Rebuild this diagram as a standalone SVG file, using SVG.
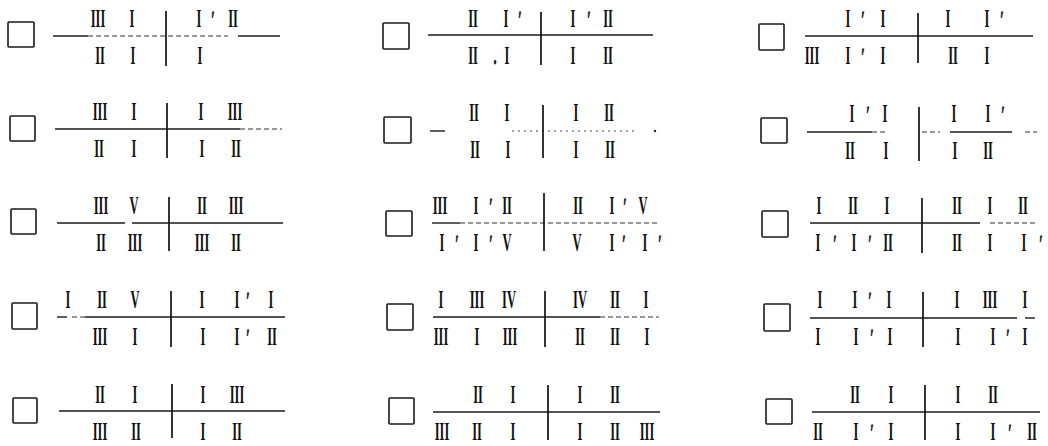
<svg xmlns="http://www.w3.org/2000/svg" width="1048" height="446" viewBox="0 0 1048 446">
<style>
.box{fill:none;stroke:#1a1a1a;stroke-width:1.6}
.h{stroke:#1a1a1a;stroke-width:1.4;fill:none}
.hd{stroke:#333;stroke-width:1.2;fill:none;stroke-dasharray:5 3}
.v{stroke:#111;stroke-width:1.7}
.t{font-family:"Liberation Serif",serif;font-size:25px;font-weight:bold;fill:#111;text-anchor:middle}
.p{font-family:"Liberation Serif",serif;font-size:24px;font-weight:bold;fill:#111;stroke:#111;stroke-width:0.8;text-anchor:middle}
</style>
<rect width="1048" height="446" fill="#fff"/>

<g id="item-r1c1">
<rect class="box" x="8" y="22" width="26" height="25" rx="1"/>
<line class="h" x1="53" y1="36" x2="88" y2="36"/><line class="hd" x1="88" y1="36" x2="228" y2="36"/><line class="h" x1="238" y1="36" x2="280" y2="36"/>
<line class="v" x1="166" y1="11" x2="166" y2="66"/>
<g transform="scale(0.5 1)">
<text class="t" x="196" y="27">III</text><text class="t" x="264" y="27">I</text><text class="t" x="398" y="27">I</text><text class="p" x="426" y="27">′</text><text class="t" x="466" y="27">II</text>
<text class="t" x="200" y="64">II</text><text class="t" x="266" y="64">I</text><text class="t" x="400" y="64">I</text>
</g>
</g>

<g id="item-r2c1">
<rect class="box" x="10" y="116" width="25" height="25" rx="1"/>
<line class="h" x1="55" y1="129" x2="240" y2="129"/><line class="hd" x1="240" y1="129" x2="282" y2="129"/>
<line class="v" x1="167" y1="103" x2="167" y2="158"/>
<g transform="scale(0.5 1)">
<text class="t" x="200" y="120">III</text><text class="t" x="268" y="120">I</text><text class="t" x="402" y="120">I</text><text class="t" x="470" y="120">III</text>
<text class="t" x="198" y="157">II</text><text class="t" x="268" y="157">I</text><text class="t" x="404" y="157">I</text><text class="t" x="472" y="157">II</text>
</g>
</g>

<g id="item-r3c1">
<rect class="box" x="11" y="209" width="25" height="25" rx="1"/>
<line class="h" x1="57" y1="223" x2="125" y2="223"/><line class="h" x1="132" y1="223" x2="283" y2="223"/>
<line class="v" x1="169" y1="197" x2="169" y2="251"/>
<g transform="scale(0.5 1)">
<text class="t" x="202" y="214">III</text><text class="t" x="268" y="214">V</text><text class="t" x="404" y="214">II</text><text class="t" x="472" y="214">III</text>
<text class="t" x="202" y="251">II</text><text class="t" x="270" y="251">III</text><text class="t" x="404" y="251">III</text><text class="t" x="472" y="251">II</text>
</g>
</g>

<g id="item-r4c1">
<rect class="box" x="12" y="303" width="25" height="26" rx="1"/>
<line class="h" x1="57" y1="317" x2="67" y2="317"/><line class="hd" x1="72" y1="317" x2="85" y2="317"/><line class="h" x1="85" y1="317" x2="285" y2="317"/>
<line class="v" x1="171" y1="291" x2="171" y2="347"/>
<g transform="scale(0.5 1)">
<text class="t" x="136" y="308">I</text><text class="t" x="204" y="308">II</text><text class="t" x="270" y="308">V</text><text class="t" x="404" y="308">I</text><text class="t" x="474" y="308">I</text><text class="p" x="496" y="308">′</text><text class="t" x="542" y="308">I</text>
<text class="t" x="200" y="345">III</text><text class="t" x="270" y="345">I</text><text class="t" x="406" y="345">I</text><text class="t" x="474" y="345">I</text><text class="p" x="496" y="345">′</text><text class="t" x="544" y="345">II</text>
</g>
</g>

<g id="item-r5c1">
<rect class="box" x="13" y="398" width="24" height="25" rx="1"/>
<line class="h" x1="59" y1="411" x2="285" y2="411"/>
<line class="v" x1="172" y1="384" x2="172" y2="438"/>
<g transform="scale(0.5 1)">
<text class="t" x="200" y="403">II</text><text class="t" x="270" y="403">I</text><text class="t" x="406" y="403">I</text><text class="t" x="474" y="403">III</text>
<text class="t" x="200" y="440">III</text><text class="t" x="272" y="440">II</text><text class="t" x="406" y="440">I</text><text class="t" x="474" y="440">II</text>
</g>
</g>

<g id="item-r1c2">
<rect class="box" x="383" y="23" width="26" height="26" rx="1"/>
<line class="h" x1="428" y1="35" x2="653" y2="35"/>
<line class="v" x1="541" y1="12" x2="541" y2="65"/>
<g transform="scale(0.5 1)">
<text class="t" x="946" y="27">II</text><text class="t" x="1012" y="27">I</text><text class="p" x="1040" y="27">′</text><text class="t" x="1146" y="27">I</text><text class="p" x="1178" y="27">′</text><text class="t" x="1216" y="27">II</text>
<text class="t" x="946" y="64">II</text><text class="p" x="990" y="64">.</text><text class="t" x="1014" y="64">I</text><text class="t" x="1146" y="64">I</text><text class="t" x="1216" y="64">II</text>
</g>
</g>

<g id="item-r2c2">
<rect class="box" x="384" y="117" width="27" height="26" rx="1"/>
<line class="h" x1="430" y1="131" x2="445" y2="131"/>
<line x1="512" y1="131" x2="637" y2="131" stroke="#444" stroke-width="1" stroke-dasharray="2 4"/>
<circle cx="655" cy="131" r="1.2" fill="#222"/>
<line class="v" x1="543" y1="105" x2="543" y2="158"/>
<g transform="scale(0.5 1)">
<text class="t" x="948" y="121">II</text><text class="t" x="1014" y="121">I</text><text class="t" x="1152" y="121">I</text><text class="t" x="1218" y="121">II</text>
<text class="t" x="950" y="158">II</text><text class="t" x="1016" y="158">I</text><text class="t" x="1152" y="158">I</text><text class="t" x="1220" y="158">II</text>
</g>
</g>

<g id="item-r3c2">
<rect class="box" x="386" y="211" width="26" height="25" rx="1"/>
<line class="h" x1="432" y1="223" x2="460" y2="223"/><line class="hd" x1="460" y1="223" x2="658" y2="223"/>
<line class="v" x1="544" y1="193" x2="544" y2="251"/>
<g transform="scale(0.5 1)">
<text class="t" x="880" y="214">III</text><text class="t" x="952" y="214">I</text><text class="p" x="982" y="214">′</text><text class="t" x="1014" y="214">II</text><text class="t" x="1156" y="214">II</text><text class="t" x="1224" y="214">I</text><text class="p" x="1250" y="214">′</text><text class="t" x="1286" y="214">V</text>
<text class="t" x="884" y="251">I</text><text class="p" x="914" y="251">′</text><text class="t" x="952" y="251">I</text><text class="p" x="982" y="251">′</text><text class="t" x="1014" y="251">V</text><text class="t" x="1154" y="251">V</text><text class="t" x="1224" y="251">I</text><text class="p" x="1248" y="251">′</text><text class="t" x="1290" y="251">I</text><text class="p" x="1320" y="251">′</text>
</g>
</g>

<g id="item-r4c2">
<rect class="box" x="387" y="304" width="26" height="26" rx="1"/>
<line class="h" x1="433" y1="317" x2="600" y2="317"/><line class="hd" x1="600" y1="317" x2="659" y2="317"/>
<line class="v" x1="545" y1="291" x2="545" y2="347"/>
<g transform="scale(0.5 1)">
<text class="t" x="882" y="308">I</text><text class="t" x="954" y="308">III</text><text class="t" x="1018" y="308">IV</text><text class="t" x="1160" y="308">IV</text><text class="t" x="1230" y="308">II</text><text class="t" x="1292" y="308">I</text>
<text class="t" x="882" y="345">III</text><text class="t" x="954" y="345">I</text><text class="t" x="1020" y="345">III</text><text class="t" x="1160" y="345">II</text><text class="t" x="1230" y="345">II</text><text class="t" x="1294" y="345">I</text>
</g>
</g>

<g id="item-r5c2">
<rect class="box" x="389" y="398" width="25" height="26" rx="1"/>
<line class="h" x1="433" y1="412" x2="660" y2="412"/>
<line class="v" x1="548" y1="385" x2="548" y2="440"/>
<g transform="scale(0.5 1)">
<text class="t" x="956" y="403">II</text><text class="t" x="1026" y="403">I</text><text class="t" x="1160" y="403">I</text><text class="t" x="1230" y="403">II</text>
<text class="t" x="884" y="440">III</text><text class="t" x="954" y="440">II</text><text class="t" x="1026" y="440">I</text><text class="t" x="1160" y="440">I</text><text class="t" x="1230" y="440">II</text><text class="t" x="1294" y="440">III</text>
</g>
</g>

<g id="item-r1c3">
<rect class="box" x="759" y="24" width="25" height="26" rx="1"/>
<line class="h" x1="805" y1="36" x2="1033" y2="36"/>
<line class="v" x1="918" y1="13" x2="918" y2="63"/>
<g transform="scale(0.5 1)">
<text class="t" x="1696" y="27">I</text><text class="p" x="1726" y="27">′</text><text class="t" x="1766" y="27">I</text><text class="t" x="1896" y="27">I</text><text class="t" x="1974" y="27">I</text><text class="p" x="2004" y="27">′</text>
<text class="t" x="1624" y="64">III</text><text class="t" x="1696" y="64">I</text><text class="p" x="1726" y="64">′</text><text class="t" x="1766" y="64">I</text><text class="t" x="1906" y="64">II</text><text class="t" x="1974" y="64">I</text>
</g>
</g>

<g id="item-r2c3">
<rect class="box" x="761" y="118" width="26" height="25" rx="1"/>
<line class="h" x1="807" y1="132" x2="872" y2="132"/><line class="hd" x1="872" y1="132" x2="887" y2="132"/><line class="hd" x1="922" y1="132" x2="940" y2="132"/><line class="h" x1="950" y1="132" x2="1012" y2="132"/><line class="hd" x1="1025" y1="132" x2="1037" y2="132"/>
<line class="v" x1="919" y1="107" x2="919" y2="161"/>
<g transform="scale(0.5 1)">
<text class="t" x="1704" y="122">I</text><text class="p" x="1736" y="122">′</text><text class="t" x="1770" y="122">I</text><text class="t" x="1908" y="122">I</text><text class="t" x="1976" y="122">I</text><text class="p" x="2006" y="122">′</text>
<text class="t" x="1700" y="159">II</text><text class="t" x="1772" y="159">I</text><text class="t" x="1910" y="159">I</text><text class="t" x="1976" y="159">II</text>
</g>
</g>

<g id="item-r3c3">
<rect class="box" x="762" y="211" width="26" height="26" rx="1"/>
<line class="h" x1="810" y1="223" x2="980" y2="223"/><line class="hd" x1="990" y1="223" x2="1037" y2="223"/>
<line class="v" x1="922" y1="198" x2="922" y2="253"/>
<g transform="scale(0.5 1)">
<text class="t" x="1638" y="214">I</text><text class="t" x="1706" y="214">II</text><text class="t" x="1774" y="214">I</text><text class="t" x="1914" y="214">II</text><text class="t" x="1980" y="214">I</text><text class="t" x="2046" y="214">II</text>
<text class="t" x="1636" y="251">I</text><text class="p" x="1670" y="251">′</text><text class="t" x="1708" y="251">I</text><text class="p" x="1740" y="251">′</text><text class="t" x="1776" y="251">II</text><text class="t" x="1914" y="251">II</text><text class="t" x="1980" y="251">I</text><text class="t" x="2048" y="251">I</text><text class="p" x="2082" y="251">′</text>
</g>
</g>

<g id="item-r4c3">
<rect class="box" x="764" y="304" width="26" height="27" rx="1"/>
<line class="h" x1="810" y1="318" x2="1017" y2="318"/><line class="h" x1="1025" y1="318" x2="1035" y2="318"/>
<line class="v" x1="923" y1="292" x2="923" y2="347"/>
<g transform="scale(0.5 1)">
<text class="t" x="1640" y="308">I</text><text class="t" x="1710" y="308">I</text><text class="p" x="1740" y="308">′</text><text class="t" x="1778" y="308">I</text><text class="t" x="1914" y="308">I</text><text class="t" x="1980" y="308">III</text><text class="t" x="2050" y="308">I</text>
<text class="t" x="1636" y="345">I</text><text class="t" x="1712" y="345">I</text><text class="p" x="1744" y="345">′</text><text class="t" x="1780" y="345">I</text><text class="t" x="1916" y="345">I</text><text class="t" x="1986" y="345">I</text><text class="p" x="2016" y="345">′</text><text class="t" x="2050" y="345">I</text>
</g>
</g>

<g id="item-r5c3">
<rect class="box" x="766" y="399" width="26" height="25" rx="1"/>
<line class="h" x1="812" y1="412" x2="1040" y2="412"/>
<line class="v" x1="925" y1="385" x2="925" y2="440"/>
<g transform="scale(0.5 1)">
<text class="t" x="1710" y="403">II</text><text class="t" x="1782" y="403">I</text><text class="t" x="1916" y="403">I</text><text class="t" x="1986" y="403">II</text>
<text class="t" x="1636" y="440">II</text><text class="t" x="1712" y="440">I</text><text class="p" x="1744" y="440">′</text><text class="t" x="1782" y="440">I</text><text class="t" x="1916" y="440">I</text><text class="t" x="1986" y="440">I</text><text class="p" x="2020" y="440">′</text><text class="t" x="2064" y="440">II</text>
</g>
</g>
</svg>
